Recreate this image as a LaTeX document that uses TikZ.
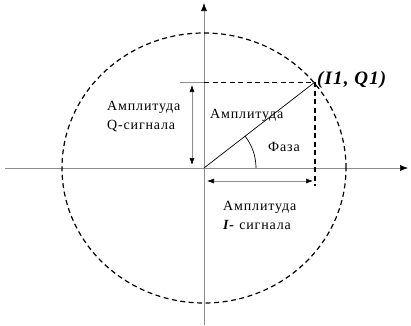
\documentclass[tikz,border=0pt]{standalone}
\usepackage{fontspec}
\setmainfont{Liberation Serif}[LetterSpace=6]
\usetikzlibrary{arrows.meta,positioning}

\begin{document}
\begin{tikzpicture}[
  x=1pt, y=1pt,
  font=\fontsize{14}{19}\selectfont,
  axis line/.style={
    draw=black!45,
    line width=0.6pt,
    -{Latex[length=8pt,width=6pt,color=black]}
  },
  guide line/.style={
    line width=1.2pt,
    dash pattern=on 5pt off 3.5pt
  },
  span arrow/.style={
    draw=black!45,
    line width=0.6pt,
    {Latex[length=7pt,width=5pt,color=black]}-{Latex[length=7pt,width=5pt,color=black]}
  },
  caption/.style={
    align=left,
    inner sep=0pt,
    anchor=west
  }
]
\useasboundingbox (0,0) rectangle (411,325);

% axes
\coordinate (origin) at (204,157);
\coordinate (axis-left) at (5,157);
\coordinate (axis-right) at (408,157);
\coordinate (axis-bottom) at (204,0);
\coordinate (axis-top) at (204,322);
\draw[axis line] (axis-left) -- (axis-right);
\draw[axis line] (axis-bottom) -- (axis-top);

% unit circle
\draw[guide line] (origin) ellipse [x radius=142, y radius=135];

% signal point and projections
\coordinate (point) at (315,243);
\coordinate (q-level) at (180,243);
\coordinate (i-foot) at (315,139);
\draw[draw=black!45, line width=0.6pt] (q-level) -- (204,243);
\draw[guide line, line width=0.9pt] (204,243) -- (point);
\draw[guide line] (point) -- (i-foot);
\draw[line width=0.7pt] (origin) -- (point);

% phase arc
\draw[line width=0.7pt] ([shift={(0:52)}]origin) arc [start angle=0, end angle=37.8, radius=52];

% amplitude spans
\coordinate (q-top) at (192,240);
\coordinate (q-bottom) at (192,160);
\coordinate (i-left) at (207,144);
\coordinate (i-right) at (313,144);
\draw[span arrow] (q-top) -- (q-bottom);
\draw[span arrow] (i-left) -- (i-right);

% labels
\node[caption] (q-label) at (107,208) {Амплитуда\\Q-сигнала};
\node[caption] (amp-label) at (210,210) {Амплитуда};
\node[caption] (phase-label) at (268,178) {Фаза};
\node[caption] (i-label) at (223,110) {Амплитуда\\\textbf{\textit{I-}} сигнала};
\node[caption, font=\fontsize{19}{22}\selectfont\bfseries\itshape] (point-label)
  at (317,245) {(I1, Q1)};

\end{tikzpicture}
\end{document}
